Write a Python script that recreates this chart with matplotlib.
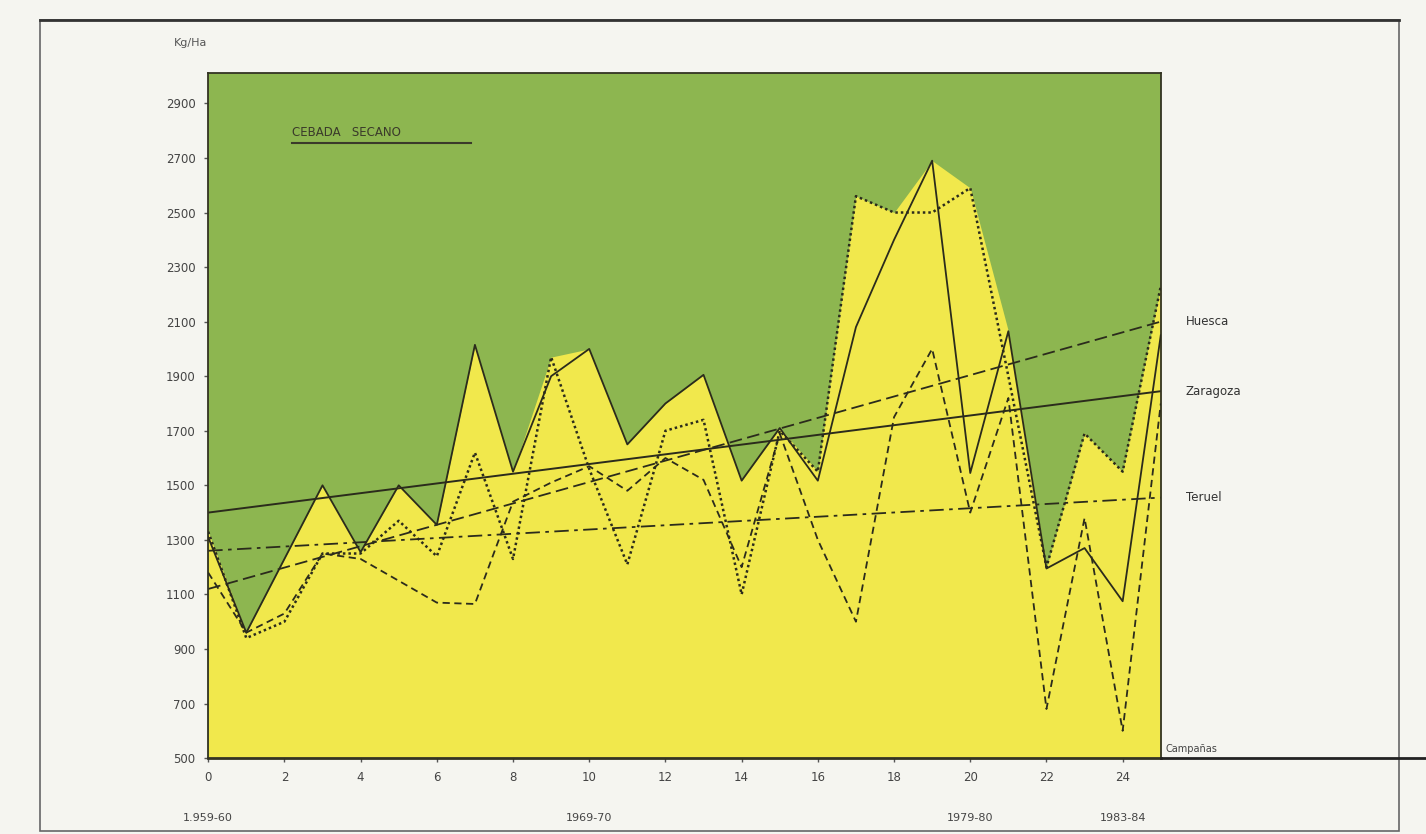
import matplotlib.pyplot as plt
import numpy as np
from matplotlib.patches import Rectangle

# campañas 1959-60 .. 1984-85 (0..25)
campanas = np.arange(26)

huesca = [1330, 940, 1000, 1250, 1250, 1370, 1240, 1620, 1230, 1970, 1560, 1210, 1700,
          1740, 1100, 1700, 1550, 2560, 2500, 2500, 2590, 1900, 1200, 1690, 1550, 2230]
zaragoza = [1310, 960, 1230, 1500, 1255, 1500, 1355, 2015, 1550, 1900, 2000, 1650, 1800,
            1905, 1517, 1710, 1517, 2080, 2400, 2690, 1545, 2065, 1195, 1270, 1075, 2050]
teruel = [1180, 960, 1030, 1250, 1230, 1150, 1070, 1065, 1440, 1510, 1570, 1480, 1600,
          1520, 1200, 1690, 1300, 1000, 1750, 2000, 1400, 1820, 680, 1380, 600, 1800]

# rectas de tendencia (inicio, fin)
trend_x = [0, 25]
trend_huesca = [1120, 2100]
trend_zaragoza = [1400, 1845]
trend_teruel = [1260, 1455]

provincias = ['Huesca', 'Zaragoza', 'Teruel']
xticks = list(range(0, 25, 2))
yticks = list(range(500, 3000, 200))
periodos = ['1.959-60', '1969-70', '1979-80', '1983-84']
periodos_x = [0, 10, 20, 24]

green = '#8db650'
yellow = '#f1e84c'
ink = '#2b2b1c'

fig = plt.figure(figsize=(14.26, 8.34), dpi=100, facecolor='#f5f5f0')
ax = fig.add_axes([0.146, 0.091, 0.668, 0.821])
ax.set_facecolor(green)

top = np.maximum(np.maximum(huesca, zaragoza), teruel)
ax.fill_between(campanas, 500, top, color=yellow, lw=0, zorder=1)

ax.plot(campanas, zaragoza, color=ink, lw=1.3, ls='-', zorder=3)
ax.plot(campanas, huesca, color=ink, lw=1.8, ls=(0, (1, 1.2)), zorder=3)
ax.plot(campanas, teruel, color=ink, lw=1.3, ls=(0, (4, 2.5)), zorder=3)

ax.plot(trend_x, trend_zaragoza, color=ink, lw=1.4, ls='-', zorder=2)
ax.plot(trend_x, trend_huesca, color=ink, lw=1.3, ls=(0, (7, 3)), zorder=2)
ax.plot(trend_x, trend_teruel, color=ink, lw=1.3, ls=(0, (8, 3, 2, 3)), zorder=2)

ax.set_xlim(0, 25)
ax.set_ylim(500, 3010)
ax.set_xticks(xticks)
ax.set_yticks(yticks)
ax.tick_params(direction='out', length=3, width=1, colors='#555555', labelsize=8.5,
               labelcolor='#444444', pad=6)
for s in ax.spines.values():
    s.set_color('#333322')
    s.set_linewidth(1.3)
ax.spines['bottom'].set_linewidth(2)

# nombres de provincias al final de cada tendencia
for name, tr in zip(provincias, [trend_huesca, trend_zaragoza, trend_teruel]):
    ax.annotate(name, xy=(25, tr[1]), xytext=(18, 0), textcoords='offset points',
                va='center', fontsize=8.5, color='#333333', annotation_clip=False)

ax.text(2.2, 2770, 'CEBADA   SECANO', fontsize=8.5, color='#3a3a2a', va='bottom')
ax.plot([2.2, 6.9], [2755, 2755], color='#3a3a2a', lw=1.5)

fig.text(0.122, 0.945, 'Kg/Ha', fontsize=8, color='#555555', ha='left')
fig.text(0.817, 0.098, 'Campañas', fontsize=7, color='#444444', ha='left')
fig.add_artist(plt.Line2D([0.814, 1.0], [0.091, 0.091], color='#222222', lw=2))

for lab, px in zip(periodos, periodos_x):
    ax.annotate(lab, xy=(px, 500), xytext=(0, -43), textcoords='offset points',
                ha='center', va='center', fontsize=8, color='#444444',
                annotation_clip=False)

fig.add_artist(Rectangle((0.028, 0.003), 0.953, 0.973, transform=fig.transFigure,
                         fill=False, ec='#666666', lw=1.2))
fig.add_artist(plt.Line2D([0.028, 0.981], [0.976, 0.976], color='#333333', lw=2))

fig.savefig('out.png', dpi=100, facecolor=fig.get_facecolor())
